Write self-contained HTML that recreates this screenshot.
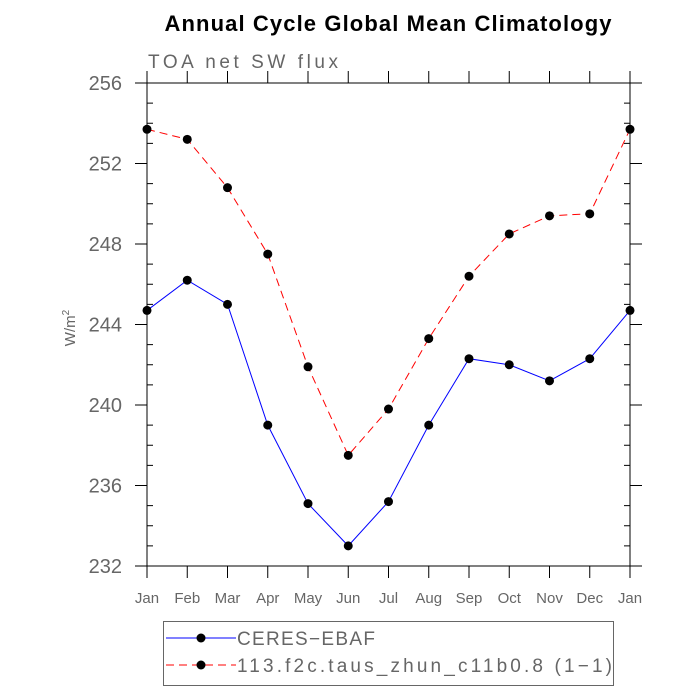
<!DOCTYPE html>
<html><head><meta charset="utf-8"><style>body{margin:0;background:#fff}svg{display:block}</style></head>
<body>
<svg width="700" height="700" xmlns="http://www.w3.org/2000/svg" font-family="Liberation Sans, sans-serif">
<text x="388" y="31" text-anchor="middle" font-size="22" font-weight="bold" fill="#000" textLength="447">Annual Cycle Global Mean Climatology</text>
<text x="148" y="68" font-size="19" fill="#666" textLength="190">TOA net SW flux</text>
<text transform="translate(75,328) rotate(-90)" text-anchor="middle" font-size="15" fill="#666">W/m<tspan dy="-6" font-size="10">2</tspan></text>
<g id="axes"></g>
<g id="series"></g>
<rect x="163.5" y="621.5" width="450" height="64" fill="none" stroke="#666"/>
<g>
<line x1="166" y1="638" x2="236" y2="638" stroke="#00f"/><circle cx="201" cy="638" r="4.5" fill="#000"/>
<text x="237" y="645" font-size="19" fill="#666" textLength="138">CERES−EBAF</text></g>
<g>
<line x1="166" y1="665" x2="236" y2="665" stroke="#f00" stroke-dasharray="8,5"/><circle cx="201" cy="665" r="4.5" fill="#000"/>
<text x="237" y="672" font-size="19" fill="#666" textLength="375">113.f2c.taus_zhun_c11b0.8 (1−1)</text></g>
</svg>
<script>
const months=["Jan","Feb","Mar","Apr","May","Jun","Jul","Aug","Sep","Oct","Nov","Dec","Jan"];
const ceres=[244.7,246.2,245.0,239.0,235.1,233.0,235.2,239.0,242.3,242.0,241.2,242.3,244.7];
const model=[253.7,253.2,250.8,247.5,241.9,237.5,239.8,243.3,246.4,248.5,249.4,249.5,253.7];
const yTicks=[232,236,240,244,248,252,256];
const NS="http://www.w3.org/2000/svg";
const X0=147,X1=630,Y0=566,Y1=83,ymin=232,ymax=256;
const xs=i=>X0+(X1-X0)*i/(months.length-1);
const ys=v=>Y0-(Y0-Y1)*(v-ymin)/(ymax-ymin);
function mk(t,a,p){const e=document.createElementNS(NS,t);for(const k in a)e.setAttribute(k,a[k]);p.appendChild(e);return e;}
const ax=document.getElementById('axes');
const frame=mk('rect',{x:X0,y:Y1,width:X1-X0,height:Y0-Y1,fill:'none',stroke:'#000','stroke-width':1},ax);


for(let v=ymin;v<=ymax;v++){const y=ys(v);const maj=(v-ymin)%4===0;
 if(maj){mk('line',{x1:X0-12,y1:y,x2:X0,y2:y,stroke:'#000'},ax);mk('line',{x1:X1,y1:y,x2:X1+12,y2:y,stroke:'#000'},ax);}
 else{mk('line',{x1:X0,y1:y,x2:X0+6,y2:y,stroke:'#000'},ax);mk('line',{x1:X1-6,y1:y,x2:X1,y2:y,stroke:'#000'},ax);}}
yTicks.forEach(v=>{const t=mk('text',{x:X0-25,y:ys(v)+7,'text-anchor':'end','font-size':20,fill:'#666'},ax);t.textContent=v;
 
 });
months.forEach((m,i)=>{const x=xs(i);
 mk('line',{x1:x,y1:Y0,x2:x,y2:Y0+12,stroke:'#000'},ax);mk('line',{x1:x,y1:Y1-12,x2:x,y2:Y1,stroke:'#000'},ax);
 const t=mk('text',{x:x,y:Y0+37,'text-anchor':'middle','font-size':15,fill:'#666'},ax);t.textContent=m;
 
 });
const sg=document.getElementById('series');
function series(d,c,dash,name){
 const p=mk('polyline',{points:d.map((v,i)=>xs(i)+','+ys(v)).join(' '),fill:'none',stroke:c,'stroke-width':1,'stroke-dasharray':dash},sg);
 
 
 d.forEach((v,i)=>{const c2=mk('circle',{cx:xs(i),cy:ys(v),r:4.5,fill:'#000'},sg);
  
  });}
series(model,'#f00','8,5','model');
series(ceres,'#00f','none','ceres');
</script>
</body></html>
